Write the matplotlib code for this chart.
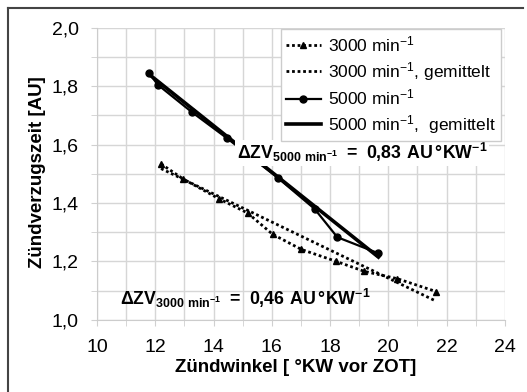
import numpy as np
import matplotlib
matplotlib.use('Agg')
import matplotlib.pyplot as plt
from matplotlib.lines import Line2D

plt.rcParams['font.family'] = ['Liberation Sans', 'DejaVu Sans']
plt.rcParams['mathtext.fontset'] = 'custom'
plt.rcParams['mathtext.rm'] = 'Liberation Sans'
plt.rcParams['mathtext.bf'] = 'Liberation Sans:bold'
plt.rcParams['mathtext.default'] = 'regular'

# 3000 min^-1 measurements
x_3000 = [12.2, 12.95, 14.2, 15.17, 16.03, 17.02, 18.22, 19.18, 20.31, 21.64]
y_3000 = [1.534, 1.483, 1.414, 1.366, 1.293, 1.241, 1.200, 1.166, 1.141, 1.097]
# 3000 min^-1 averaged fit (end points)
x_3000_fit = [12.2, 21.64]
y_3000_fit = [1.518, 1.064]

# 5000 min^-1 measurements
x_5000 = [11.78, 12.09, 13.25, 14.45, 16.2, 17.47, 18.25, 19.66]
y_5000 = [1.846, 1.805, 1.712, 1.623, 1.487, 1.380, 1.283, 1.228]
# 5000 min^-1 averaged fit
x_5000_fit = [11.8, 19.66]
y_5000_fit = [1.840, 1.215]

xticks = [10, 12, 14, 16, 18, 20, 22, 24]
yticks = [1.0, 1.2, 1.4, 1.6, 1.8, 2.0]
ytick_labels = ['1,0', '1,2', '1,4', '1,6', '1,8', '2,0']


def main():
    fig = plt.figure(figsize=(5.27, 3.92), dpi=100)
    ax = fig.add_axes([0.184, 0.184, 0.774, 0.745])

    ax.plot(x_3000, y_3000, linestyle=(0, (1, 1)), color='black', lw=2,
            marker='^', ms=5, label='3000 min$^{-1}$')
    ax.plot(x_3000_fit, y_3000_fit, linestyle=(0, (1, 1)), color='black', lw=2,
            label='3000 min$^{-1}$, gemittelt')
    ax.plot(x_5000, y_5000, linestyle='-', color='black', lw=1.6,
            marker='o', ms=5, label='5000 min$^{-1}$')
    ax.plot(x_5000_fit, y_5000_fit, linestyle='-', color='black', lw=2.6,
            label='5000 min$^{-1}$,  gemittelt')

    ax.set_xlim(10, 24)
    ax.set_ylim(1.0, 2.0)
    ax.set_xticks(xticks)
    ax.set_xticklabels([str(t) for t in xticks])
    ax.set_yticks(yticks)
    ax.set_yticklabels(ytick_labels)
    ax.set_xticks(np.arange(10, 25, 1), minor=True)
    ax.set_yticks(np.arange(1.0, 2.01, 0.1), minor=True)
    ax.grid(which='both', color='#d6d6d6', lw=1)
    ax.set_axisbelow(True)
    ax.tick_params(which='both', length=4, color='#d0d0d0', labelsize=14)
    ax.tick_params(axis='x', pad=10)
    ax.tick_params(axis='y', pad=9)
    for s in ['top', 'right']:
        ax.spines[s].set_visible(False)
    for s in ['left', 'bottom']:
        ax.spines[s].set_color('#cccccc')

    ax.set_xlabel('Zündwinkel [ °KW vor ZOT]', fontsize=13.5, fontweight='bold')
    ax.set_ylabel('Zündverzugszeit [AU]', fontsize=13.5, fontweight='bold')
    ax.xaxis.set_label_coords(0.487, -0.135)
    ax.yaxis.set_label_coords(-0.125, 0.505)

    leg = ax.legend(loc='upper right', bbox_to_anchor=(0.99, 0.995), fontsize=12.5,
                    frameon=True, fancybox=False, borderaxespad=0, handlelength=2.0,
                    handletextpad=0.4, labelspacing=0.3, borderpad=0.3)
    leg.get_frame().set_edgecolor('#cccccc')
    leg.get_frame().set_linewidth(1)
    leg.get_frame().set_alpha(1)

    ax.text(19.1, 1.572, r'$\mathbf{\Delta ZV_{5000\ min^{-1}}}$' + r'$\mathbf{\ =\ 0{,}83\ AU\,°KW^{-1}}$',
            fontsize=12.8, ha='center', va='center',
            bbox=dict(facecolor='white', edgecolor='none', pad=1))
    ax.text(15.08, 1.075, r'$\mathbf{\Delta ZV_{3000\ min^{-1}}}$' + r'$\mathbf{\ =\ 0{,}46\ AU\,°KW^{-1}}$',
            fontsize=12.8, ha='center', va='center')

    # outer frame
    fig.add_artist(Line2D([8 / 527, 8 / 527], [0, 1 - 8 / 392], color='#444444', lw=1.5))
    fig.add_artist(Line2D([8 / 527, 523 / 527], [1 - 8 / 392, 1 - 8 / 392], color='#444444', lw=1.5))

    fig.savefig('out.png', dpi=100)


if __name__ == '__main__':
    main()
